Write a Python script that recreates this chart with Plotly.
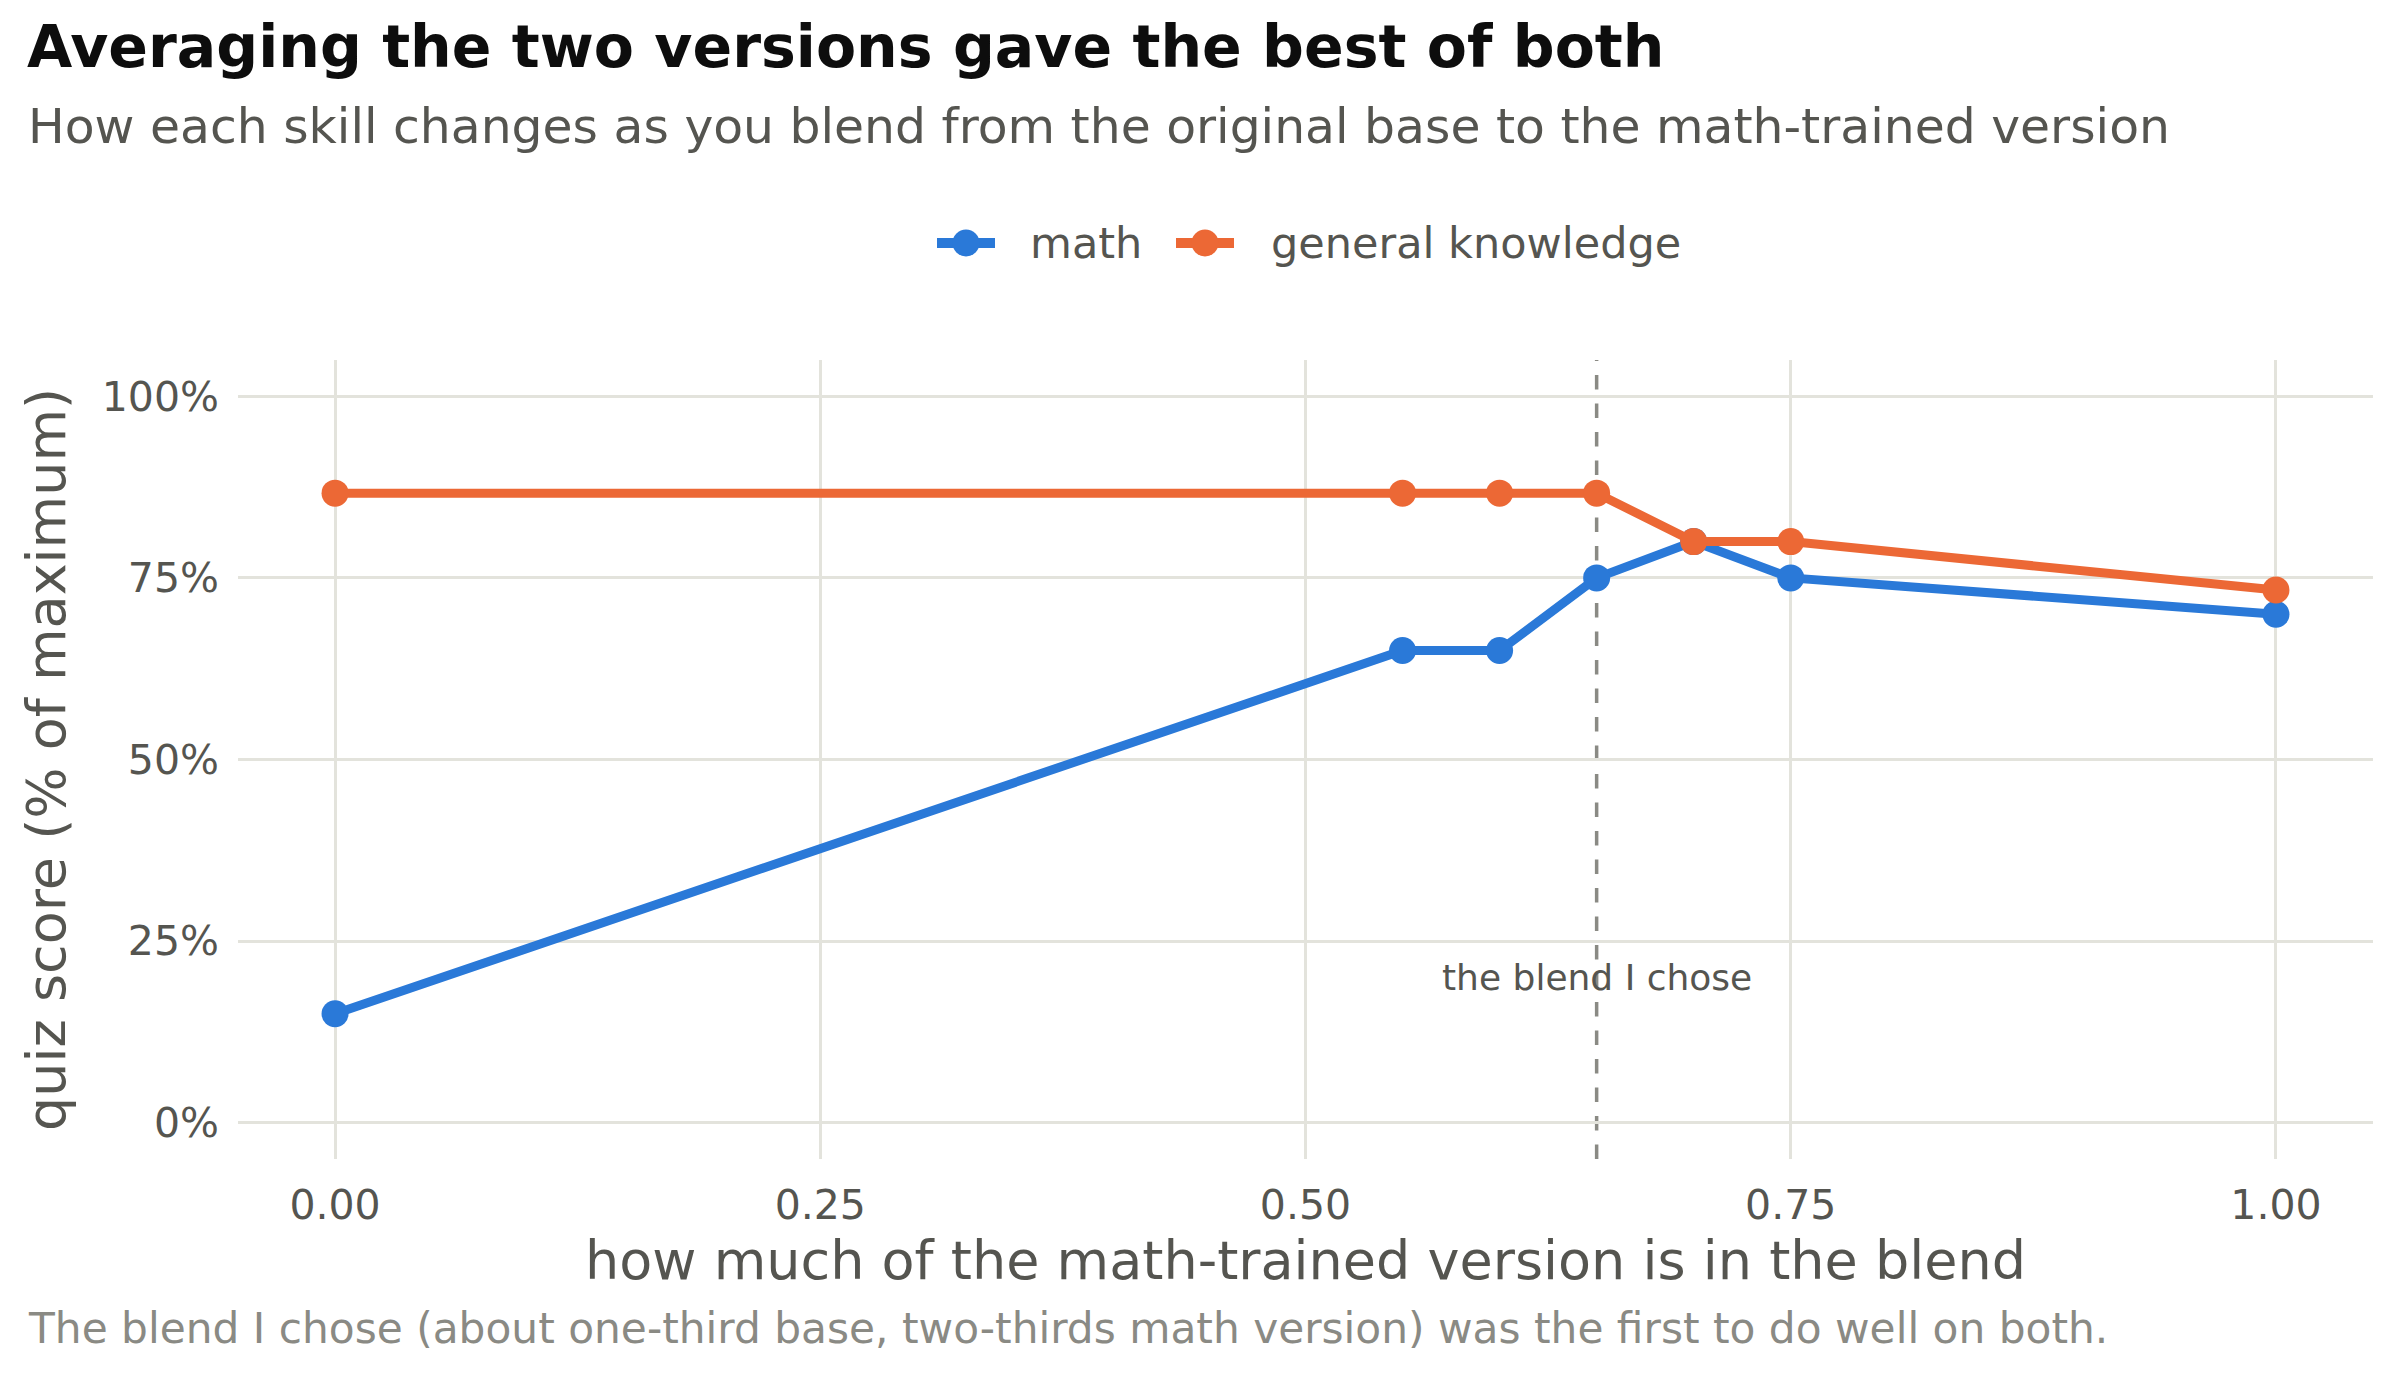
import plotly.graph_objects as go

# ---- data ----
blend = [0.0, 0.55, 0.60, 0.65, 0.70, 0.75, 1.00]
math_score = [0.15, 0.65, 0.65, 0.75, 0.80, 0.75, 0.70]
general_score = [0.8667, 0.8667, 0.8667, 0.8667, 0.80, 0.80, 0.7333]
series_names = ["math", "general knowledge"]
chosen_blend = 0.65
x_ticks = [0.0, 0.25, 0.50, 0.75, 1.00]
y_ticks = [0.0, 0.25, 0.50, 0.75, 1.00]

# ---- style ----
W, H = 2400, 1380
ML, MR, MT, MB = 238, 27, 360, 221
PW, PH = W - ML - MR, H - MT - MB
BLUE = "#2a79d8"
ORANGE = "#ec6835"
GRID = "#e3e3dc"
TXT = "#555550"
FONT = "DejaVu Sans"


def px_x(px):
    return (px - ML) / PW


def px_y(py):
    return (H - MB - py) / PH


fig = go.Figure()
for name, vals, col in [(series_names[0], math_score, BLUE),
                        (series_names[1], general_score, ORANGE)]:
    fig.add_trace(go.Scatter(
        x=blend, y=vals, name=name, mode="lines+markers",
        line=dict(color=col, width=9),
        marker=dict(color=col, size=27),
        showlegend=False,
    ))

# chosen blend marker line
fig.add_shape(type="line", xref="x", yref="paper", x0=chosen_blend, x1=chosen_blend,
              y0=0, y1=1, line=dict(color="#8a8a84", width=3.5, dash="14.5px,14px"),
              layer="below")
fig.add_annotation(x=chosen_blend, y=0.2, xref="x", yref="y", text="the blend I chose",
                   showarrow=False, font=dict(family=FONT, size=36, color=TXT),
                   xanchor="center", yanchor="middle")

# title, subtitle, caption
fig.add_annotation(x=px_x(25), y=px_y(47), xref="paper", yref="paper",
                   text="<b>Averaging the two versions gave the best of both</b>",
                   showarrow=False, xanchor="left", yanchor="middle",
                   font=dict(family=FONT, size=58.5, color="#0d0d0d"))
fig.add_annotation(x=px_x(26), y=px_y(126), xref="paper", yref="paper",
                   text="How each skill changes as you blend from the original base to the math-trained version",
                   showarrow=False, xanchor="left", yanchor="middle",
                   font=dict(family=FONT, size=48.8, color=TXT))
fig.add_annotation(x=px_x(26), y=px_y(1328), xref="paper", yref="paper",
                   text="The blend I chose (about one-third base, two-thirds math version) was the first to do well on both.",
                   showarrow=False, xanchor="left", yanchor="middle",
                   font=dict(family=FONT, size=42.3, color="#8a8a84"))

# legend (custom keys)
legend_items = [(series_names[0], BLUE, 966, 1028), (series_names[1], ORANGE, 1205, 1269)]
ly = 243
for name, col, cx, tx in legend_items:
    fig.add_shape(type="line", xref="paper", yref="paper", xsizemode="pixel", ysizemode="pixel",
                  xanchor=px_x(cx), yanchor=px_y(ly), x0=-29, x1=29, y0=0, y1=0,
                  line=dict(color=col, width=10))
    fig.add_shape(type="circle", xref="paper", yref="paper", xsizemode="pixel", ysizemode="pixel",
                  xanchor=px_x(cx), yanchor=px_y(ly), x0=-13.5, x1=13.5, y0=-13.5, y1=13.5,
                  fillcolor=col, line=dict(width=0))
    fig.add_annotation(x=px_x(tx), y=px_y(ly), xref="paper", yref="paper", text=name,
                       showarrow=False, xanchor="left", yanchor="middle",
                       font=dict(family=FONT, size=43, color=TXT))

fig.update_layout(
    width=W, height=H,
    margin=dict(l=ML, r=MR, t=MT, b=MB, autoexpand=False),
    paper_bgcolor="white", plot_bgcolor="white",
    font=dict(family=FONT, color=TXT),
    showlegend=False,
)
fig.update_xaxes(
    range=[-0.05, 1.05], tickvals=x_ticks, tickformat=".2f",
    showgrid=True, gridcolor=GRID, gridwidth=3, zeroline=False, showline=False,
    tickfont=dict(family=FONT, size=41, color=TXT), ticklabelstandoff=18,
    title=dict(text="how much of the math-trained version is in the blend",
               font=dict(family=FONT, size=54, color=TXT), standoff=8),
    automargin=False,
)
fig.update_yaxes(
    range=[-0.05, 1.05], tickvals=y_ticks, tickformat=".0%",
    showgrid=True, gridcolor=GRID, gridwidth=3, zeroline=False, showline=False,
    tickfont=dict(family=FONT, size=41, color=TXT), ticklabelstandoff=18,
    title=dict(text="quiz score (% of maximum)",
               font=dict(family=FONT, size=54, color=TXT), standoff=18),
    automargin=False,
)

fig.write_html("out.html")
